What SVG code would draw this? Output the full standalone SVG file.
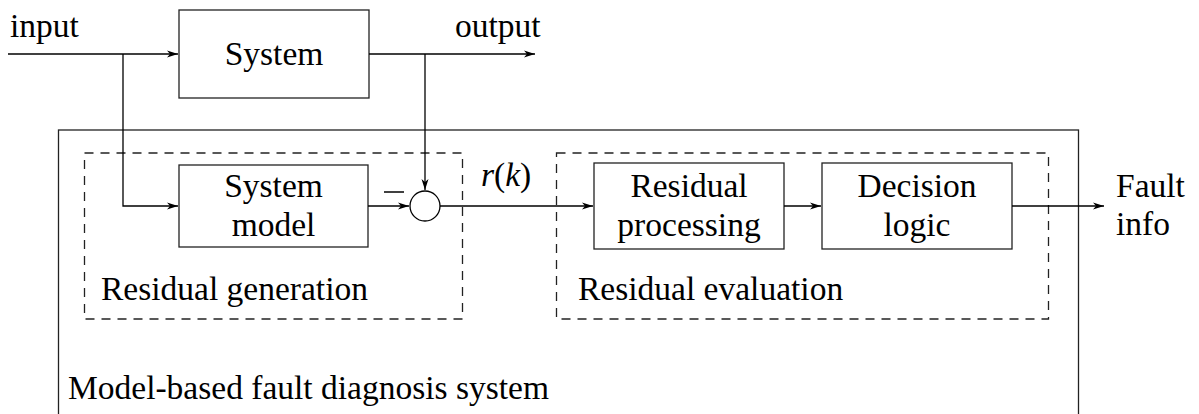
<svg xmlns="http://www.w3.org/2000/svg" width="1199" height="414" viewBox="0 0 1199 414">
<defs>
<marker id="arr" markerWidth="12" markerHeight="8" refX="11" refY="4" orient="auto" markerUnits="userSpaceOnUse">
<path d="M0,0.5 L11,4 L0,7.5 L3,4 z" fill="#000"/>
</marker>
</defs>
<rect width="1199" height="414" fill="#fff"/>
<g id="outer">
<rect x="58.5" y="130" width="1020" height="300" fill="none" stroke="#222" stroke-width="1.3"/>
<text x="68" y="399" style="font-family:'Liberation Serif';font-size:33.5px">Model-based fault diagnosis system</text>
</g>
<g id="residual-generation">
<rect x="84.5" y="153" width="378" height="166" fill="none" stroke="#222" stroke-width="1.3" stroke-dasharray="9,7"/>
<text x="101" y="300" style="font-family:'Liberation Serif';font-size:33.5px">Residual generation</text>
</g>
<g id="residual-evaluation">
<rect x="556.5" y="153" width="492" height="166" fill="none" stroke="#222" stroke-width="1.3" stroke-dasharray="9,7"/>
<text x="578" y="300" style="font-family:'Liberation Serif';font-size:33.5px">Residual evaluation</text>
</g>
<g id="system">
<rect x="179" y="10" width="190" height="88" fill="none" stroke="#222" stroke-width="1.3"/>
<text x="274" y="65" text-anchor="middle" style="font-family:'Liberation Serif';font-size:33.5px">System</text>
</g>
<g id="system-model">
<rect x="179" y="165" width="189" height="82" fill="none" stroke="#222" stroke-width="1.3"/>
<text x="273.5" y="197" text-anchor="middle" style="font-family:'Liberation Serif';font-size:33.5px">System</text>
<text x="273.5" y="236" text-anchor="middle" style="font-family:'Liberation Serif';font-size:33.5px">model</text>
</g>
<g id="sum">
<circle cx="425" cy="206" r="15" fill="#fff" stroke="#000" stroke-width="1.3"/>
<line x1="384" y1="192" x2="404" y2="192" stroke="#000" stroke-width="1.5"/>
</g>
<g id="residual-processing">
<rect x="594" y="163" width="190" height="86" fill="none" stroke="#222" stroke-width="1.3"/>
<text x="689" y="197" text-anchor="middle" style="font-family:'Liberation Serif';font-size:33.5px">Residual</text>
<text x="689" y="236" text-anchor="middle" style="font-family:'Liberation Serif';font-size:33.5px">processing</text>
</g>
<g id="decision-logic">
<rect x="822" y="163" width="190" height="86" fill="none" stroke="#222" stroke-width="1.3"/>
<text x="917" y="197" text-anchor="middle" style="font-family:'Liberation Serif';font-size:33.5px">Decision</text>
<text x="917" y="236" text-anchor="middle" style="font-family:'Liberation Serif';font-size:33.5px">logic</text>
</g>
<g id="labels">
<text x="10" y="37" style="font-family:'Liberation Serif';font-size:33.5px">input</text>
<text x="455" y="37" style="font-family:'Liberation Serif';font-size:33.5px">output</text>
<text x="1116" y="197" style="font-family:'Liberation Serif';font-size:33.5px">Fault</text>
<text x="1116" y="235" style="font-family:'Liberation Serif';font-size:33.5px">info</text>
<text x="481" y="186" style="font-family:'Liberation Serif';font-size:33.5px"><tspan font-style="italic">r</tspan>(<tspan font-style="italic">k</tspan>)</text>
</g>
<g id="connectors" fill="none" stroke="#000" stroke-width="1.3">
<path d="M8,54 H178" marker-end="url(#arr)"/>
<path d="M369,54 H535" marker-end="url(#arr)"/>
<path d="M123,54 V206 H178" marker-end="url(#arr)"/>
<path d="M425,54 V190" marker-end="url(#arr)"/>
<path d="M368,206 H409" marker-end="url(#arr)"/>
<path d="M440,206 H593" marker-end="url(#arr)"/>
<path d="M784,206 H821" marker-end="url(#arr)"/>
<path d="M1012,206 H1104" marker-end="url(#arr)"/>
</g>
</svg>
